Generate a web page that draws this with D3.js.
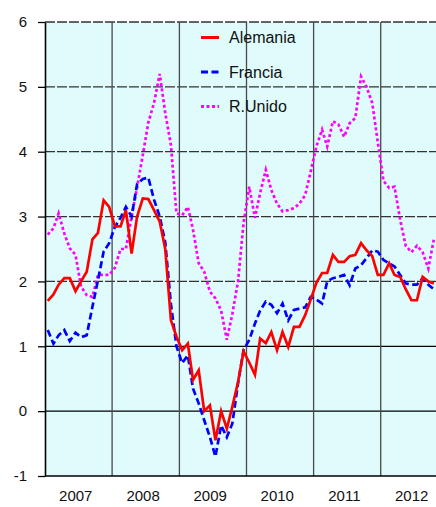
<!DOCTYPE html>
<html>
<head>
<meta charset="utf-8">
<script src="https://cdn.jsdelivr.net/npm/d3@7"></script>
<style>
  body { margin: 0; background: #fff; }
  text { font-family: "Liberation Sans", Arial, sans-serif; fill: #111; }
</style>
</head>
<body>
<div id="chart"></div>
<script>
var svgWidth = 436;
var svgHeight = 507;

// monthly data, Jan 2007 - Oct 2012
var firstYear = 2007;
var alemania = [
  1.7, 1.8, 1.95, 2.05, 2.05, 1.85, 2.0, 2.15, 2.65, 2.75, 3.25, 3.15,
  2.85, 2.85, 3.1, 2.43, 3.0, 3.28, 3.27, 3.1, 2.92, 2.5, 1.4, 1.15,
  0.94, 1.04, 0.48, 0.63, 0.0, 0.09, -0.45, 0.0, -0.27, 0.07, 0.45, 0.92,
  0.75, 0.56, 1.12, 1.05, 1.22, 0.94, 1.22, 0.99, 1.3, 1.3, 1.48, 1.72,
  1.98, 2.13, 2.13, 2.41, 2.3, 2.3, 2.39, 2.41, 2.59, 2.48, 2.39, 2.1,
  2.1, 2.28, 2.1, 2.07, 1.88, 1.71, 1.71, 2.07, 2.0, 1.97
];
var francia = [
  1.25, 1.04, 1.17, 1.25, 1.08, 1.21, 1.14, 1.17, 1.61, 2.02, 2.46, 2.59,
  2.84, 2.98, 3.15, 3.0, 3.5, 3.58, 3.6, 3.26, 3.0, 2.6, 1.65, 1.0,
  0.74, 0.86, 0.35, 0.12, -0.14, -0.4, -0.7, -0.22, -0.4, -0.19, 0.43, 0.94,
  1.1, 1.35, 1.55, 1.69, 1.64, 1.51, 1.66, 1.4, 1.56, 1.58, 1.6, 1.76,
  1.72, 1.66, 2.0, 2.05, 2.07, 2.1, 1.94, 2.2, 2.25, 2.36, 2.48, 2.46,
  2.33, 2.28, 2.23, 2.1, 1.97, 1.95, 1.95, 2.05, 1.95, 1.88
];
var rUnido = [
  2.72, 2.82, 3.05, 2.74, 2.51, 2.41, 1.92, 1.79, 1.76, 2.1, 2.1, 2.1,
  2.21, 2.5, 2.5, 3.0, 3.45, 3.95, 4.45, 4.75, 5.2, 4.6, 4.1, 3.05,
  3.02, 3.15, 2.8, 2.28, 2.15, 1.84, 1.74, 1.55, 1.1, 1.5, 2.0, 2.9,
  3.46, 2.98, 3.36, 3.72, 3.41, 3.2, 3.08, 3.1, 3.13, 3.2, 3.33, 3.69,
  4.08, 4.34, 4.08, 4.47, 4.42, 4.23, 4.44, 4.52, 5.16, 5.0, 4.75, 4.15,
  3.55, 3.44, 3.46, 2.95, 2.55, 2.45, 2.55, 2.45, 2.2, 2.65
];
var seriesNames = ["Alemania", "Francia", "R.Unido"];
var years = [2007, 2008, 2009, 2010, 2011, 2012];
var yTicks = [-1, 0, 1, 2, 3, 4, 5, 6];

var margin = { top: 22, left: 45, bottom: 31 };
var plotRight = 448;   // end of 2012, runs past the picture edge
var plotBottom = svgHeight - margin.bottom;

var svg = d3.select("#chart")
            .append("svg")
            .attr("width", svgWidth)
            .attr("height", svgHeight);

var xScale = d3.scaleTime()
               .domain([new Date(2007, 0, 1), new Date(2013, 0, 1)])
               .range([margin.left, plotRight]);

var yScale = d3.scaleLinear()
               .domain([-1, 6])
               .range([plotBottom, margin.top]);

var monthDate = function(i) { return new Date(firstYear, i, 16); };

// plot background
svg.append("rect")
   .attr("x", margin.left)
   .attr("y", margin.top)
   .attr("width", plotRight - margin.left)
   .attr("height", plotBottom - margin.top)
   .attr("fill", "#dffbfb");

// horizontal grid
svg.append("g").selectAll("line")
   .data(yTicks.filter(function(v) { return v > -1; }))
   .enter().append("line")
   .attr("x1", margin.left).attr("x2", plotRight)
   .attr("y1", function(v) { return yScale(v); })
   .attr("y2", function(v) { return yScale(v); })
   .attr("stroke", function(v) { return v >= 2 ? "#333" : "#000"; })
   .attr("stroke-width", 1.3)
   .attr("stroke-dasharray", function(v) { return v >= 2 ? "10,2" : null; });

// vertical grid at year starts
svg.append("g").selectAll("line")
   .data(years.slice(1))
   .enter().append("line")
   .attr("x1", function(y) { return xScale(new Date(y, 0, 1)); })
   .attr("x2", function(y) { return xScale(new Date(y, 0, 1)); })
   .attr("y1", margin.top).attr("y2", plotBottom)
   .attr("stroke", "#4a4a4a")
   .attr("stroke-width", 1.3);

// axes
var yAxis = d3.axisLeft(yScale)
              .tickValues(yTicks)
              .tickFormat(function(d) { return String(d); })
              .tickSize(7)
              .tickSizeOuter(0)
              .tickPadding(11);

var yAxisG = svg.append("g")
                .attr("transform", `translate(${margin.left},0)`)
                .call(yAxis);
yAxisG.selectAll("text").attr("font-size", 15).style("font-family", "Liberation Sans, Arial, sans-serif");
yAxisG.selectAll("line").attr("stroke", "#000").attr("stroke-width", 1.3);
yAxisG.select(".domain").attr("stroke", "#000").attr("stroke-width", 1.6);

var xAxis = d3.axisBottom(xScale)
              .tickValues(years.map(function(y) { return new Date(y, 6, 1); }))
              .tickFormat(d3.timeFormat("%Y"))
              .tickSize(0)
              .tickPadding(14);

var xAxisG = svg.append("g")
                .attr("transform", `translate(0,${plotBottom})`)
                .call(xAxis);
xAxisG.select(".domain").remove();
xAxisG.selectAll("text").attr("font-size", 15).attr("dx", -3).style("font-family", "Liberation Sans, Arial, sans-serif");

svg.append("line")
   .attr("x1", margin.left).attr("x2", plotRight)
   .attr("y1", plotBottom).attr("y2", plotBottom)
   .attr("stroke", "#000").attr("stroke-width", 1.6);

// series
var series = [
  { name: seriesNames[2], values: rUnido, color: "#ff00ff", dash: "3,2.5" },
  { name: seriesNames[1], values: francia, color: "#0000ff", dash: "7,3.5" },
  { name: seriesNames[0], values: alemania, color: "#ff0000", dash: null }
];

var line = d3.line()
             .x(function(d, i) { return xScale(monthDate(i)); })
             .y(function(d) { return yScale(d); });

svg.append("g").selectAll("path")
   .data(series)
   .enter().append("path")
   .attr("d", function(s) { return line(s.values); })
   .attr("fill", "none")
   .attr("stroke", function(s) { return s.color; })
   .attr("stroke-width", 2.7)
   .attr("stroke-linejoin", "miter")
   .attr("stroke-dasharray", function(s) { return s.dash; });

// legend
var legendItems = series.slice().reverse();
var legend = svg.append("g").selectAll("g")
                .data(legendItems)
                .enter().append("g")
                .attr("transform", function(s, i) { return `translate(201,${37.5 + i * 34.5})`; });

legend.append("line")
      .attr("x1", 0).attr("x2", 18)
      .attr("stroke", function(s) { return s.color; })
      .attr("stroke-width", 3)
      .attr("stroke-dasharray", function(s) { return s.dash; });

legend.append("text")
      .attr("x", 28)
      .attr("dy", "0.36em")
      .attr("font-size", 16)
      .text(function(s) { return s.name; });
</script>
</body>
</html>
